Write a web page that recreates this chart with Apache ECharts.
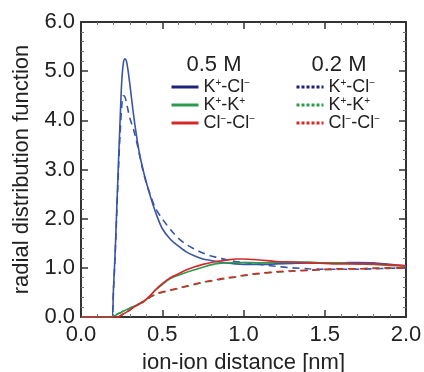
<!DOCTYPE html>
<html>
<head>
<meta charset="utf-8">
<script src="https://cdn.jsdelivr.net/npm/echarts@6/dist/echarts.min.js"></script>
<style>
  html, body { margin: 0; padding: 0; background: #fff; }
  #chart { width: 424px; height: 372px; }
</style>
</head>
<body>
<div id="chart"></div>
<script>
// shared distance grid (nm)
const distance = [0, 0.17, 0.19, 0.2, 0.21, 0.22, 0.23, 0.24, 0.25, 0.26, 0.27, 0.28, 0.29, 0.30,
  0.32, 0.34, 0.36, 0.38, 0.40, 0.43, 0.46, 0.50, 0.55, 0.60, 0.65, 0.70, 0.75, 0.80, 0.85,
  0.90, 0.95, 1.0, 1.1, 1.2, 1.3, 1.4, 1.5, 1.6, 1.7, 1.8, 1.9, 2.0];

// 0.5 M (solid)
const kcl05 = [0, 0, 0, 0.6, 1.3, 2.2, 3.1, 3.95, 4.75, 5.15, 5.25, 5.2, 5.0, 4.75,
  4.2, 3.72, 3.32, 3.02, 2.76, 2.42, 2.12, 1.8, 1.58, 1.44, 1.32, 1.24, 1.18, 1.15, 1.12,
  1.1, 1.08, 1.07, 1.07, 1.08, 1.09, 1.1, 1.1, 1.1, 1.11, 1.1, 1.07, 1.04];
const kk05 = [0, 0, 0, 0.02, 0.03, 0.05, 0.07, 0.08, 0.1, 0.12, 0.13, 0.15, 0.16, 0.18,
  0.21, 0.24, 0.27, 0.3, 0.35, 0.45, 0.55, 0.66, 0.78, 0.85, 0.91, 0.96, 1.01, 1.06, 1.09,
  1.1, 1.11, 1.11, 1.1, 1.11, 1.12, 1.12, 1.1, 1.1, 1.08, 1.07, 1.05, 1.04];
const clcl05 = [0, 0, 0, 0, 0, 0, 0, 0.02, 0.04, 0.06, 0.08, 0.1, 0.12, 0.14,
  0.19, 0.23, 0.27, 0.31, 0.36, 0.45, 0.56, 0.68, 0.8, 0.88, 0.96, 1.02, 1.07, 1.11, 1.14,
  1.16, 1.18, 1.18, 1.16, 1.13, 1.12, 1.1, 1.09, 1.08, 1.08, 1.08, 1.06, 1.04];

// 0.2 M (dashed)
const kcl02 = [0, 0, 0, 0.55, 1.25, 2.1, 2.95, 3.7, 4.25, 4.5, 4.48, 4.35, 4.2, 4.05,
  3.85, 3.6, 3.3, 3.0, 2.75, 2.45, 2.2, 2.0, 1.78, 1.6, 1.47, 1.38, 1.3, 1.24, 1.2,
  1.16, 1.13, 1.11, 1.07, 1.03, 1.0, 0.98, 0.97, 0.97, 0.97, 0.98, 0.99, 1.0];
const kk02 = [0, 0, 0, 0.02, 0.03, 0.05, 0.07, 0.08, 0.1, 0.12, 0.13, 0.15, 0.16, 0.18,
  0.21, 0.24, 0.27, 0.3, 0.34, 0.41, 0.46, 0.5, 0.54, 0.58, 0.62, 0.66, 0.7, 0.73, 0.76,
  0.79, 0.81, 0.84, 0.88, 0.91, 0.93, 0.95, 0.96, 0.97, 0.98, 0.99, 0.99, 1.0];
const clcl02 = [0, 0, 0, 0, 0, 0, 0, 0.02, 0.04, 0.06, 0.08, 0.1, 0.12, 0.14,
  0.19, 0.23, 0.27, 0.31, 0.35, 0.42, 0.47, 0.51, 0.55, 0.59, 0.63, 0.67, 0.71, 0.74, 0.77,
  0.8, 0.82, 0.85, 0.89, 0.92, 0.94, 0.95, 0.97, 0.98, 0.98, 0.99, 1.0, 1.0];

const xTicks = [0, 0.5, 1.0, 1.5, 2.0];
const yTicks = [0, 1, 2, 3, 4, 5, 6];

const font = "'Liberation Sans', Arial, sans-serif";
const BLUE = '#3a54a6';
const NAVY = '#1c2378';
const GREEN = '#2e9a4e';
const RED = '#d6282a';

const pairs = ys => distance.map((x, i) => [x, ys[i]]);

const labels = {
  kcl05: '{t|K}{s|+}{t|-Cl}{s|−}',
  kk05: '{t|K}{s|+}{t|-K}{s|+}',
  clcl05: '{t|Cl}{s|−}{t|-Cl}{s|−}',
  kcl02: '{t|K}{s|+}{t|-Cl}{s|−}',
  kk02: '{t|K}{s|+}{t|-K}{s|+}',
  clcl02: '{t|Cl}{s|−}{t|-Cl}{s|−}'
};

const rich = {
  t: { fontSize: 18, lineHeight: 18, fontFamily: font, color: '#222' },
  s: { fontSize: 10, lineHeight: 10, verticalAlign: 'top', fontFamily: font, color: '#222' }
};

// hide the circle that line-series legend icons get
const noSymbol = { color: 'rgba(0,0,0,0)', borderColor: 'rgba(0,0,0,0)', borderWidth: 0, opacity: 0 };

function line(name, ys, color, dashed) {
  return {
    name: name,
    type: 'line',
    data: pairs(ys),
    symbol: 'none',
    smooth: 0.3,
    xAxisIndex: 0,
    yAxisIndex: 0,
    itemStyle: { color: color },
    lineStyle: { color: color, width: 1.6, type: dashed ? [7, 5] : 'solid' },
    z: dashed ? 2 : 3
  };
}

const chart = echarts.init(document.getElementById('chart'));

const baseX = {
  type: 'value', min: 0, max: 2, interval: 0.5,
  axisLine: { show: true, onZero: false, lineStyle: { color: '#333', width: 2 } },
  axisTick: { show: true, inside: true, length: 7, lineStyle: { color: '#333', width: 1.5 } },
  minorTick: { show: true, splitNumber: 5, length: 3, lineStyle: { color: '#777' } },
  splitLine: { show: false }
};
const baseY = {
  type: 'value', min: 0, max: 6, interval: 1,
  axisLine: { show: true, onZero: false, lineStyle: { color: '#333', width: 2 } },
  axisTick: { show: true, inside: true, length: 7, lineStyle: { color: '#333', width: 1.5 } },
  minorTick: { show: true, splitNumber: 5, length: 3, lineStyle: { color: '#777' } },
  splitLine: { show: false }
};

chart.setOption({
  animation: false,
  backgroundColor: '#fff',
  textStyle: { fontFamily: font },
  grid: { left: 81, right: 18, top: 22, bottom: 55, outerBoundsMode: 'none' },
  title: [
    { text: '0.5 M', left: 209, top: 49, textAlign: 'center',
      textStyle: { fontSize: 22, fontWeight: 'normal', color: '#222', fontFamily: font } },
    { text: '0.2 M', left: 334, top: 49, textAlign: 'center',
      textStyle: { fontSize: 22, fontWeight: 'normal', color: '#222', fontFamily: font } }
  ],
  legend: [
    {
      orient: 'vertical', left: 170, top: 78, padding: 0,
      itemWidth: 27, itemHeight: 14, itemGap: 0, selectedMode: false,
      formatter: n => labels[n],
      textStyle: { rich: rich },
      data: [
        { name: 'kcl05', itemStyle: noSymbol, lineStyle: { color: NAVY, width: 3, type: 'solid' } },
        { name: 'kk05', itemStyle: noSymbol, lineStyle: { color: GREEN, width: 3, type: 'solid' } },
        { name: 'clcl05', itemStyle: noSymbol, lineStyle: { color: RED, width: 3, type: 'solid' } }
      ]
    },
    {
      orient: 'vertical', left: 295, top: 78, padding: 0,
      itemWidth: 27, itemHeight: 14, itemGap: 0, selectedMode: false,
      formatter: n => labels[n],
      textStyle: { rich: rich },
      data: [
        { name: 'kcl02', itemStyle: noSymbol, lineStyle: { color: NAVY, width: 3, type: [3, 2] } },
        { name: 'kk02', itemStyle: noSymbol, lineStyle: { color: GREEN, width: 3, type: [3, 2] } },
        { name: 'clcl02', itemStyle: noSymbol, lineStyle: { color: RED, width: 3, type: [3, 2] } }
      ]
    }
  ],
  xAxis: [
    Object.assign({}, baseX, {
      position: 'bottom',
      name: 'ion-ion distance [nm]', nameLocation: 'middle', nameGap: 35,
      nameTextStyle: { fontSize: 22, color: '#222', fontFamily: font },
      axisLabel: {
        fontSize: 22, color: '#222', margin: 7, fontFamily: font,
        customValues: xTicks,
        formatter: v => v.toFixed(1)
      }
    }),
    Object.assign({}, baseX, { position: 'top', axisLabel: { show: false } })
  ],
  yAxis: [
    Object.assign({}, baseY, {
      position: 'left',
      name: 'radial distribution function', nameLocation: 'middle', nameGap: 48,
      nameTextStyle: { fontSize: 22, color: '#222', fontFamily: font },
      axisLabel: {
        fontSize: 22, color: '#222', margin: 6, fontFamily: font,
        customValues: yTicks,
        formatter: v => v.toFixed(1)
      }
    }),
    Object.assign({}, baseY, { position: 'right', axisLabel: { show: false } })
  ],
  series: [
    line('kcl02', kcl02, BLUE, true),
    line('kk02', kk02, GREEN, true),
    line('clcl02', clcl02, RED, true),
    line('kcl05', kcl05, BLUE, false),
    line('kk05', kk05, GREEN, false),
    line('clcl05', clcl05, RED, false)
  ]
});
</script>
</body>
</html>
